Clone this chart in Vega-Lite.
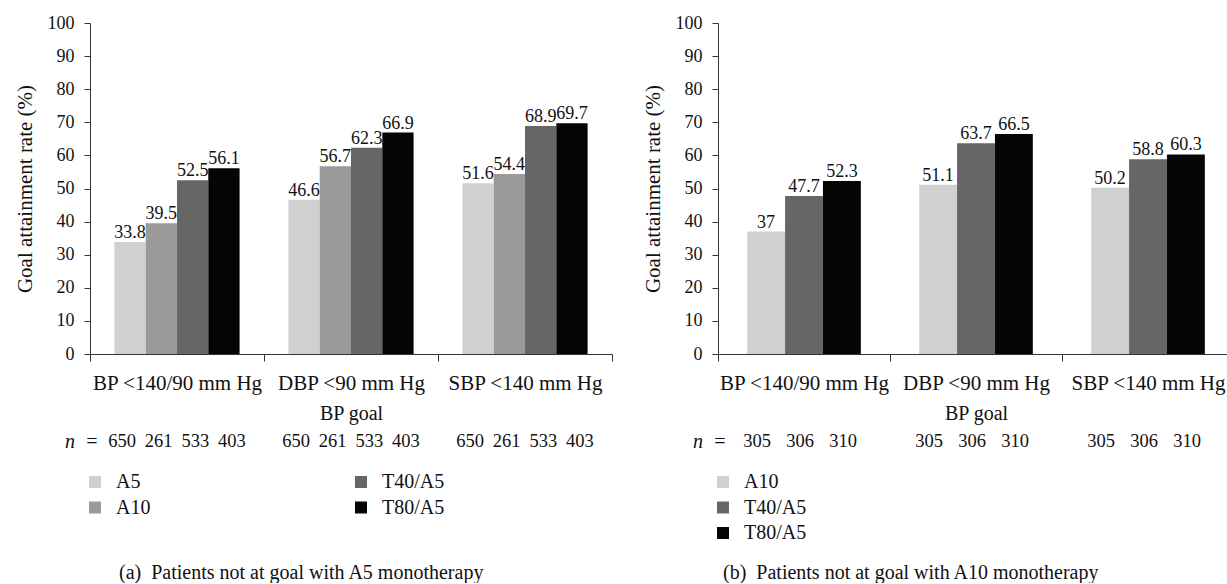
{
  "$schema": "https://vega.github.io/schema/vega-lite/v6.json",
  "padding": {"left": 14, "top": 14, "right": 0, "bottom": 0},
  "background": "white",
  "spacing": 29,
  "config": {
    "font": "Liberation Serif",
    "view": {"stroke": null},
    "axis": {"domainColor": "#333333", "tickColor": "#333333", "labelColor": "#111111", "titleColor": "#111111", "grid": false, "labelFont": "Liberation Serif", "titleFont": "Liberation Serif", "titleFontWeight": "normal"},
    "legend": {"labelFont": "Liberation Serif", "labelColor": "#111111"},
    "title": {"font": "Liberation Serif", "fontWeight": "normal", "color": "#111111"}
  },
  "datasets": {
    "a": [
      {"goal": "BP <140/90 mm Hg", "treatment": "A5", "rate": 33.8, "n": "650"},
      {"goal": "BP <140/90 mm Hg", "treatment": "A10", "rate": 39.5, "n": "261"},
      {"goal": "BP <140/90 mm Hg", "treatment": "T40/A5", "rate": 52.5, "n": "533"},
      {"goal": "BP <140/90 mm Hg", "treatment": "T80/A5", "rate": 56.1, "n": "403"},
      {"goal": "DBP <90 mm Hg", "treatment": "A5", "rate": 46.6, "n": "650"},
      {"goal": "DBP <90 mm Hg", "treatment": "A10", "rate": 56.7, "n": "261"},
      {"goal": "DBP <90 mm Hg", "treatment": "T40/A5", "rate": 62.3, "n": "533"},
      {"goal": "DBP <90 mm Hg", "treatment": "T80/A5", "rate": 66.9, "n": "403"},
      {"goal": "SBP <140 mm Hg", "treatment": "A5", "rate": 51.6, "n": "650"},
      {"goal": "SBP <140 mm Hg", "treatment": "A10", "rate": 54.4, "n": "261"},
      {"goal": "SBP <140 mm Hg", "treatment": "T40/A5", "rate": 68.9, "n": "533"},
      {"goal": "SBP <140 mm Hg", "treatment": "T80/A5", "rate": 69.7, "n": "403"}
    ],
    "b": [
      {"goal": "BP <140/90 mm Hg", "treatment": "A10", "rate": 37, "n": "305"},
      {"goal": "BP <140/90 mm Hg", "treatment": "T40/A5", "rate": 47.7, "n": "306"},
      {"goal": "BP <140/90 mm Hg", "treatment": "T80/A5", "rate": 52.3, "n": "310"},
      {"goal": "DBP <90 mm Hg", "treatment": "A10", "rate": 51.1, "n": "305"},
      {"goal": "DBP <90 mm Hg", "treatment": "T40/A5", "rate": 63.7, "n": "306"},
      {"goal": "DBP <90 mm Hg", "treatment": "T80/A5", "rate": 66.5, "n": "310"},
      {"goal": "SBP <140 mm Hg", "treatment": "A10", "rate": 50.2, "n": "305"},
      {"goal": "SBP <140 mm Hg", "treatment": "T40/A5", "rate": 58.8, "n": "306"},
      {"goal": "SBP <140 mm Hg", "treatment": "T80/A5", "rate": 60.3, "n": "310"}
    ]
  },
  "resolve": {"scale": {"color": "independent", "xOffset": "independent"}, "legend": {"color": "independent"}},
  "hconcat": [
    {
      "bounds": "flush",
      "spacing": 77,
      "resolve": {"scale": {"xOffset": "independent"}},
      "vconcat": [
        {
          "width": 522,
          "height": 331,
          "data": {"name": "a"},
          "title": {"text": "(a)\u00a0\u00a0Patients not at goal with A5 monotherapy", "orient": "bottom", "anchor": "start", "frame": "group", "dx": 29, "offset": 140, "baseline": "top", "fontSize": 20},
          "encoding": {
            "x": {"field": "goal", "type": "nominal", "sort": ["BP <140/90 mm Hg", "DBP <90 mm Hg", "SBP <140 mm Hg"], "scale": {"paddingInner": 0, "paddingOuter": 0},
              "axis": {"title": "BP goal", "titleFontSize": 20, "titlePadding": 10, "labelFontSize": 21, "labelPadding": 11, "tickSize": 7, "tickBand": "extent", "labelAngle": 0, "labelLimit": 0}},
            "xOffset": {"field": "treatment", "type": "nominal", "sort": ["A5", "A10", "T40/A5", "T80/A5"], "scale": {"paddingInner": 0, "paddingOuter": 0.78}},
            "y": {"field": "rate", "type": "quantitative", "scale": {"domain": [0, 100], "nice": false},
              "axis": {"values": [0, 10, 20, 30, 40, 50, 60, 70, 80, 90, 100], "title": "Goal attainment rate (%)", "titleFontSize": 21, "titlePadding": 12, "labelFontSize": 18, "labelPadding": 10, "tickSize": 6}}
          },
          "layer": [
            {
              "mark": {"type": "bar"},
              "encoding": {
                "color": {"field": "treatment", "type": "nominal",
                  "scale": {"domain": ["A5", "A10", "T40/A5", "T80/A5"], "range": ["#d0d0d0", "#9a9a9a", "#666666", "#050505"]},
                  "legend": {"orient": "none", "legendX": -5, "legendY": 449, "columns": 2, "title": null, "symbolType": "square", "symbolSize": 144, "symbolStrokeWidth": 0, "labelFontSize": 20, "labelOffset": 11, "columnPadding": 200, "rowPadding": 5.5, "padding": 0}}
              }
            },
            {
              "mark": {"type": "text", "baseline": "bottom", "fontSize": 18, "color": "#111111"},
              "encoding": {"text": {"field": "rate", "type": "quantitative"}}
            }
          ]
        },
        {
          "width": 522,
          "height": 20,
          "data": {"name": "a"},
          "mark": {"type": "text", "fontSize": 18.5, "baseline": "middle", "color": "#111111"},
          "encoding": {
            "x": {"field": "goal", "type": "nominal", "sort": ["BP <140/90 mm Hg", "DBP <90 mm Hg", "SBP <140 mm Hg"], "scale": {"paddingInner": 0, "paddingOuter": 0}, "axis": null},
            "xOffset": {"field": "treatment", "type": "nominal", "sort": ["A5", "A10", "T40/A5", "T80/A5"], "scale": {"type": "point", "padding": 0.875}},
            "y": {"datum": "n\u00a0\u00a0=", "type": "nominal", "axis": {"title": null, "domain": false, "ticks": false, "tickSize": 0, "labelFontSize": 20, "labelFontStyle": "italic", "labelPadding": -8}},
            "text": {"field": "n", "type": "nominal"}
          }
        }
      ]
    },
    {
      "bounds": "flush",
      "spacing": 77,
      "resolve": {"scale": {"xOffset": "independent"}},
      "vconcat": [
        {
          "width": 516,
          "height": 331,
          "data": {"name": "b"},
          "title": {"text": "(b)\u00a0\u00a0Patients not at goal with A10 monotherapy", "orient": "bottom", "anchor": "start", "frame": "group", "dx": 5, "offset": 140, "baseline": "top", "fontSize": 20},
          "encoding": {
            "x": {"field": "goal", "type": "nominal", "sort": ["BP <140/90 mm Hg", "DBP <90 mm Hg", "SBP <140 mm Hg"], "scale": {"paddingInner": 0, "paddingOuter": 0},
              "axis": {"title": "BP goal", "titleFontSize": 20, "titlePadding": 10, "labelFontSize": 21, "labelPadding": 11, "tickSize": 7, "tickBand": "extent", "labelAngle": 0, "labelLimit": 0}},
            "xOffset": {"field": "treatment", "type": "nominal", "sort": ["A10", "T40/A5", "T80/A5"], "scale": {"paddingInner": 0, "paddingOuter": 0.77}},
            "y": {"field": "rate", "type": "quantitative", "scale": {"domain": [0, 100], "nice": false},
              "axis": {"values": [0, 10, 20, 30, 40, 50, 60, 70, 80, 90, 100], "title": "Goal attainment rate (%)", "titleFontSize": 21, "titlePadding": 12, "labelFontSize": 18, "labelPadding": 10, "tickSize": 6}}
          },
          "layer": [
            {
              "mark": {"type": "bar"},
              "encoding": {
                "color": {"field": "treatment", "type": "nominal",
                  "scale": {"domain": ["A10", "T40/A5", "T80/A5"], "range": ["#d0d0d0", "#666666", "#050505"]},
                  "legend": {"orient": "none", "legendX": -5, "legendY": 449, "title": null, "symbolType": "square", "symbolSize": 144, "symbolStrokeWidth": 0, "labelFontSize": 20, "labelOffset": 11, "rowPadding": 5.5, "padding": 0}}
              }
            },
            {
              "mark": {"type": "text", "baseline": "bottom", "fontSize": 18, "color": "#111111"},
              "encoding": {"text": {"field": "rate", "type": "quantitative"}}
            }
          ]
        },
        {
          "width": 516,
          "height": 20,
          "data": {"name": "b"},
          "mark": {"type": "text", "fontSize": 18.5, "baseline": "middle", "color": "#111111", "dx": -4},
          "encoding": {
            "x": {"field": "goal", "type": "nominal", "sort": ["BP <140/90 mm Hg", "DBP <90 mm Hg", "SBP <140 mm Hg"], "scale": {"paddingInner": 0, "paddingOuter": 0}, "axis": null},
            "xOffset": {"field": "treatment", "type": "nominal", "sort": ["A10", "T40/A5", "T80/A5"], "scale": {"type": "point", "padding": 1.3}},
            "y": {"datum": "n\u00a0\u00a0=", "type": "nominal", "axis": {"title": null, "domain": false, "ticks": false, "tickSize": 0, "labelFontSize": 20, "labelFontStyle": "italic", "labelPadding": -8}},
            "text": {"field": "n", "type": "nominal"}
          }
        }
      ]
    }
  ]
}
